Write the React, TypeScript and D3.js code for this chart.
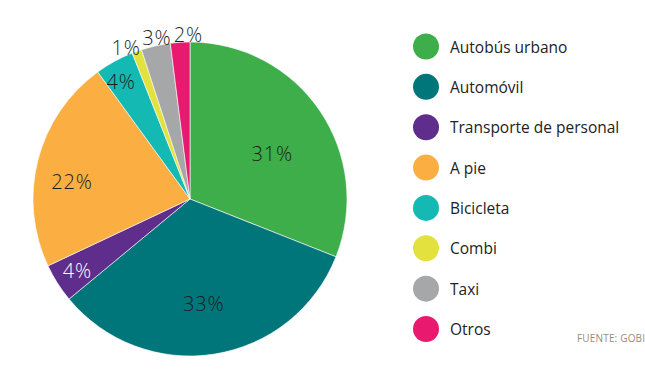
import React from "react";
import * as d3 from "d3";

const categories = ["Autobús urbano", "Automóvil", "Transporte de personal", "A pie", "Bicicleta", "Combi", "Taxi", "Otros"];
const values = [31, 33, 4, 22, 4, 1, 3, 2];
const colors = ["#3dae49", "#00767b", "#5f2d8c", "#fbae42", "#13b9b2", "#e2e13d", "#a6a7a9", "#e9196f"];
const labelColors = ["#1e1e1e", "#1e1e1e", "#ffffff", "#1e1e1e", "#1e1e1e", "#1e1e1e", "#1e1e1e", "#1e1e1e"];
// label placement (style): radius factor and angular shift in degrees
const labelRadius = [0.6, 0.67, 0.85, 0.76, 0.87, 1.05, 1.05, 1.05];
const labelShift = [5, 1.5, 0, -6, -1.5, -3, 1, 3];

export default function App() {
  const W = 645, H = 371;
  const cx = 190, cy = 199, r = 157;
  const data = categories.map((c, i) => ({ c, v: values[i], i }));
  const pie = d3.pie<any>().sort(null).value((d) => d.v);
  const arcs = pie(data);
  const arc = d3.arc<any>().innerRadius(0).outerRadius(r);
  const legendY = d3.scalePoint<string>().domain(categories).range([46.5, 329]);
  const font = "'Open Sans', 'Noto Sans', sans-serif";
  return (
    <svg width={W} height={H} style={{ position: "absolute", left: 0, top: 0 }}>
      <rect width={W} height={H} fill="#fff" />
      <g transform={`translate(${cx},${cy})`}>
        {arcs.map((a, i) => (
          <path key={i} d={arc(a) as string} fill={colors[i]} stroke="#fff" strokeWidth={0.6} />
        ))}
        {arcs.map((a, i) => {
          const mid = (a.startAngle + a.endAngle) / 2 + (labelShift[i] * Math.PI) / 180;
          const lr = labelRadius[i] * r;
          const x = Math.sin(mid) * lr;
          const y = -Math.cos(mid) * lr;
          return (
            <text key={i} x={x} y={y} textAnchor="middle" dominantBaseline="central" fontFamily={font} fontWeight={300} fontSize={20} letterSpacing={0.8} fill={labelColors[i]}>
              {a.data.v}%
            </text>
          );
        })}
      </g>
      {categories.map((c, i) => (
        <g key={c} transform={`translate(426,${legendY(c)})`}>
          <circle r={13} fill={colors[i]} />
          <text x={24} y={0} dominantBaseline="central" fontFamily={font} fontSize={15.5} fill="#222">{c}</text>
        </g>
      ))}
      <text x={577} y={338} dominantBaseline="central" fontFamily={font} fontSize={10} fill="#9a8b7b" textLength={68} lengthAdjust="spacing">FUENTE: GOBI</text>
    </svg>
  );
}
